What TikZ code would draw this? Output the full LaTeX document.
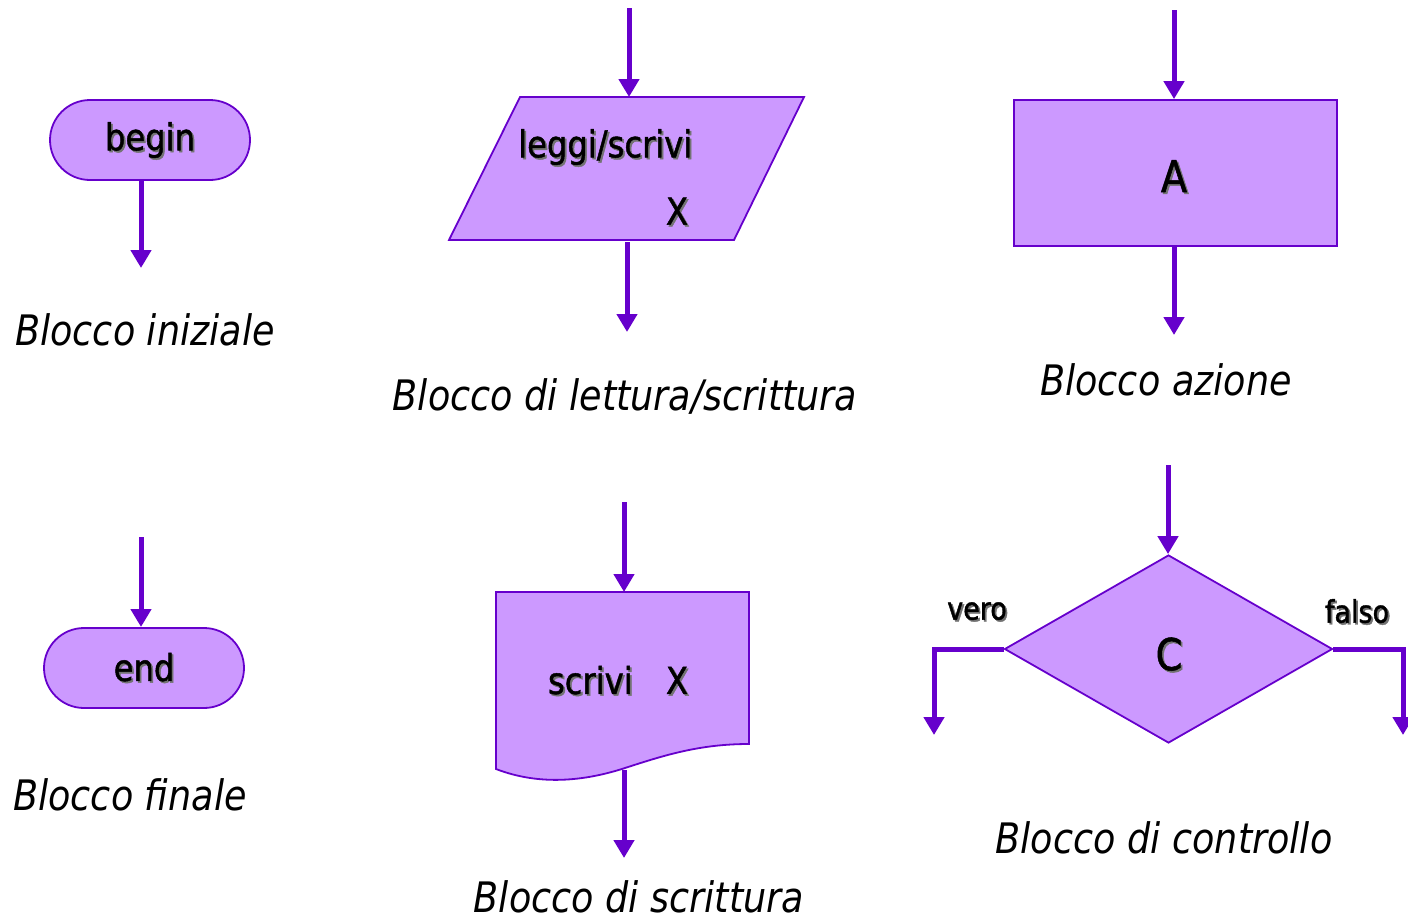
\documentclass[tikz,border=0pt]{standalone}
\usepackage{fontspec}
\setmainfont[FakeStretch=0.87]{DejaVu Sans}
\newfontfamily\labelfont[FakeStretch=0.87,FakeBold=1.2]{DejaVu Sans}
\usetikzlibrary{arrows.meta,shapes.misc,shapes.geometric}
\definecolor{boxfill}{HTML}{CC99FF}
\definecolor{boxline}{HTML}{6600CC}
\newcommand{\shadowtxt}[1]{\leavevmode\rlap{\kern1.8pt\raisebox{-1.8pt}{\textcolor{black!55}{#1}}}#1}
\tikzset{
  shapebox/.style={draw=boxline, fill=boxfill, line width=1.8pt, inner sep=0pt},
  flow/.style={draw=boxline, line width=5pt, -{Triangle[width=20pt,length=18pt]}},
  lbl/.style={font=\fontsize{37}{40}\selectfont\labelfont, inner sep=0pt},
  biglbl/.style={font=\fontsize{44}{48}\selectfont\labelfont, inner sep=0pt},
  smalllbl/.style={font=\fontsize{31}{34}\selectfont\labelfont, inner sep=0pt},
  caption/.style={font=\fontsize{42}{46}\selectfont\itshape, inner sep=0pt, anchor=base}
}
\begin{document}
\begin{tikzpicture}[x=1pt,y=-1pt]
\useasboundingbox (0,0) rectangle (1408,921);

% --- Blocco iniziale
\node[shapebox, rounded rectangle, minimum width=200pt, minimum height=80pt] (begin) at (150,140) {};
\node[lbl] (begintxt) at (150,141) {\shadowtxt{begin}};
\coordinate (beginend) at (141,268);
\draw[flow] (141,180) -- (beginend);
\node[caption] (capbegin) at (145,345) {Blocco iniziale};

% --- Blocco finale
\node[shapebox, rounded rectangle, minimum width=200pt, minimum height=80pt] (end) at (144,668) {};
\node[lbl] (endtxt) at (144,668) {\shadowtxt{end}};
\coordinate (endstart) at (141,537);
\draw[flow] (endstart) -- (141,627);
\node[caption] (capend) at (130,810) {Blocco finale};

% --- Blocco di lettura/scrittura
\coordinate (pa) at (520,97);
\coordinate (pb) at (804,97);
\coordinate (pc) at (734,240);
\coordinate (pd) at (449,240);
\draw[shapebox] (pa) -- (pb) -- (pc) -- (pd) -- cycle;
\node[lbl, anchor=west] (lstxt) at (518,148) {\shadowtxt{leggi/scrivi}};
\node[lbl] (lsx) at (677,212) {\shadowtxt{X}};
\coordinate (lsin) at (629,8);
\coordinate (lsout) at (627,332);
\draw[flow] (lsin) -- (629,97);
\draw[flow] (627,242) -- (lsout);
\node[caption] (capls) at (625,410) {Blocco di lettura/scrittura};

% --- Blocco azione
\node[shapebox, rectangle, minimum width=323pt, minimum height=146pt] (azione) at (1175.5,173) {};
\node[biglbl] (atxt) at (1174,177) {\shadowtxt{A}};
\coordinate (ain) at (1174,10);
\coordinate (aout) at (1174,335);
\draw[flow] (ain) -- (azione.north -| ain);
\draw[flow] (azione.south -| ain) -- (aout);
\node[caption] (capaz) at (1166,395) {Blocco azione};

% --- Blocco di scrittura (documento)
\coordinate (da) at (496,592);
\coordinate (db) at (749,592);
\coordinate (dc) at (749,744);
\coordinate (dd) at (496,769);
\draw[shapebox] (da) -- (db) -- (dc)
  .. controls (700,744) and (665,755) .. (625,768)
  .. controls (585,781) and (540,786) .. (dd) -- cycle;
\node[lbl] (dtxt) at (618,681) {\shadowtxt{scrivi\hspace{0.9em}X}};
\coordinate (din) at (624,502);
\coordinate (dout) at (624,858);
\draw[flow] (din) -- (624,592);
\draw[flow] (624,770) -- (dout);
\node[caption] (capd) at (639,912) {Blocco di scrittura};

% --- Blocco di controllo
\node[shapebox, diamond, minimum width=328pt, minimum height=188pt] (cond) at (1168.5,649) {};
\node[biglbl] (ctxt) at (1169,655) {\shadowtxt{C}};
\coordinate (cin) at (1168,465);
\coordinate (cleft) at (934,735);
\coordinate (cright) at (1403,735);
\draw[flow] (cin) -- (cond.north -| cin);
\draw[flow] (cond.west) -| (cleft);
\draw[flow] (cond.east) -| (cright);
\node[smalllbl] (vero) at (977,612) {\shadowtxt{vero}};
\node[smalllbl] (falso) at (1357,612) {\shadowtxt{falso}};
\node[caption] (capc) at (1164,853) {Blocco di controllo};
\end{tikzpicture}
\end{document}
